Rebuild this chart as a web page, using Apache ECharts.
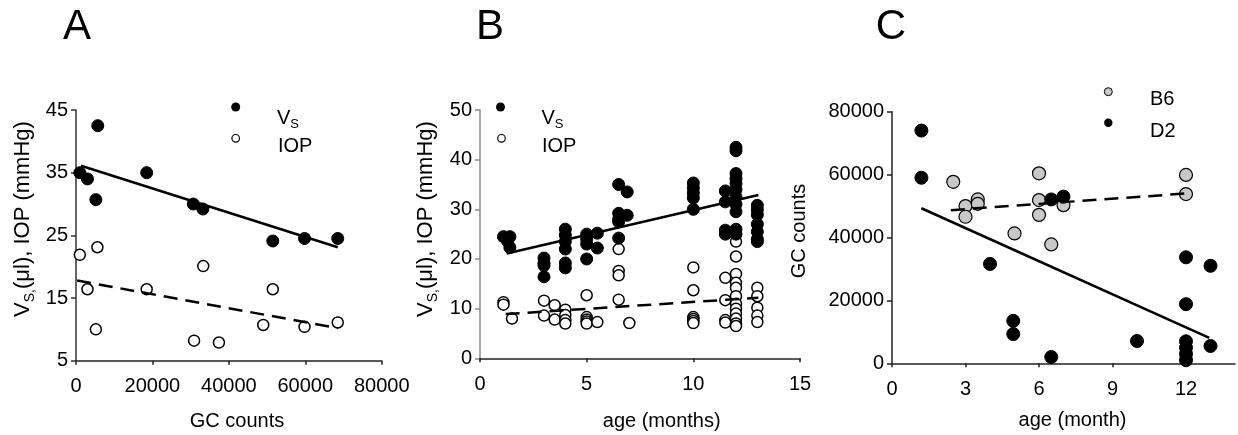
<!DOCTYPE html>
<html>
<head>
<meta charset="utf-8">
<script src="https://cdn.jsdelivr.net/npm/echarts@6/dist/echarts.min.js"></script>
<style>
html,body{margin:0;padding:0;background:#fff;}
#chart{width:1238px;height:435px;}
</style>
</head>
<body>
<div id="chart"></div>
<script>
// ---------- Panel A: Vs / IOP vs GC counts ----------
const aVsGC  = [1000, 3000, 5700, 5200, 18500, 30700, 33200, 51500, 59800, 68500];
const aVsVal = [35, 34, 42.5, 30.7, 35, 30, 29.2, 24.1, 24.5, 24.5];
const aIopGC  = [1000, 3000, 5600, 5200, 18500, 30900, 33300, 37400, 49000, 51500, 59800, 68500];
const aIopVal = [21.9, 16.4, 23.1, 10, 16.4, 8.2, 20.1, 7.9, 10.7, 16.4, 10.4, 11.1];
const aVsFitGC = [1300, 68500];
const aVsFitVal = [36.1, 23.1];
const aIopFitGC = [300, 68500];
const aIopFitVal = [17.8, 10.2];
const aYTicks = [5, 15, 25, 35, 45];

// ---------- Panel B: Vs / IOP vs age ----------
const bVsAge = [1.1, 1.4, 1.3, 1.4,
  3, 3, 3, 3,
  4, 4, 4, 4, 4, 4,
  5, 5, 5, 5, 5.5, 5.5,
  6.5, 6.5, 6.5, 6.5, 6.5, 6.9, 6.9,
  10, 10, 10, 10, 10,
  11.5, 11.5, 11.5, 11.5,
  12, 12, 12, 12, 12, 12, 12, 12, 12, 12, 12,
  13, 13, 13, 13, 13, 13, 13];
const bVsVal = [24.5, 24.5, 23.5, 22.3,
  20.2, 19.2, 18.7, 16.4,
  26, 24.8, 23.5, 22, 19.2, 18.2,
  25, 24, 23, 20, 25.2, 22.2,
  35, 29.2, 28, 27.5, 24.2, 33.5, 28.8,
  35.3, 34.3, 33.3, 32.3, 30,
  33.7, 31.5, 25.8, 25,
  42.5, 41.8, 37.2, 36.2, 35.2, 34, 32.5, 31, 29.5, 26, 25,
  30.8, 29.9, 28.9, 27, 25.5, 24, 23.5];
const bIopAge = [1.1, 1.1, 1.5,
  3, 3, 3.5, 3.5, 4, 4, 4, 4,
  5, 5, 5, 5, 5, 5.5,
  6.5, 6.5, 6.5, 6.5, 7,
  10, 10, 10, 10, 10, 10,
  11.5, 11.5, 11.5, 11.5,
  12, 12, 12, 12, 12, 12, 12, 12, 12, 12, 12, 12,
  13, 13, 13, 13, 13];
const bIopVal = [11.3, 10.8, 8,
  11.6, 8.6, 10.7, 7.8, 9.8, 8.7, 7.7, 7.0,
  12.7, 8.3, 7.8, 7.4, 7.0, 7.3,
  22, 17.6, 16.7, 11.8, 7.1,
  18.3, 13.7, 8.3, 7.9, 7.5, 7.1,
  16.2, 11.7, 7.7, 7.2,
  23.5, 20.5, 17, 15.2, 14.2, 12.5, 11, 10, 9, 8, 7, 6.5,
  14.2, 12.5, 10.2, 8.6, 7.3];
const bVsFitAge = [1.25, 13.05];
const bVsFitVal = [21.1, 32.9];
const bIopFitAge = [1.2, 13.05];
const bIopFitVal = [8.9, 12.2];

// ---------- Panel C: GC counts vs age ----------
const cB6Age = [2.5, 3, 3, 3.5, 3.5, 5, 6, 6, 6, 6.5, 7, 12, 12];
const cB6GC  = [57700, 50000, 46600, 52100, 50700, 41300, 60400, 51900, 47200, 37800, 50300, 59900, 53800];
const cD2Age = [1.2, 1.2, 4, 4.95, 4.95, 6.5, 6.5, 7, 10, 12, 12, 12, 12, 12, 12, 13, 13];
const cD2GC  = [74000, 59000, 31600, 13500, 9300, 2000, 52100, 53000, 7100, 33700, 18800, 7000, 5000, 3000, 1000, 31000, 5500];
const cB6FitAge = [2.4, 12];
const cB6FitGC  = [48700, 54000];
const cD2FitAge = [1.2, 12.95];
const cD2FitGC  = [49300, 8100];
const cXTicks = [0, 3, 6, 9, 12];

const FONT = "'Liberation Sans', Arial, Helvetica, sans-serif";
const zip = (xs, ys) => xs.map((x, i) => [x, ys[i]]);
const plain = v => String(v);

function xAxisCfg(gi, min, max, opts) {
  const o = {
    type: 'value', gridIndex: gi, min: min, max: max,
    splitLine: { show: false },
    axisLine: { show: true, onZero: false, lineStyle: { color: '#222', width: 1.5 } },
    axisTick: { show: true, length: 4, lineStyle: { color: '#222', width: 1.5 } },
    axisLabel: { color: '#000', fontFamily: FONT, fontSize: 20, margin: 16, hideOverlap: false,
      showMinLabel: true, showMaxLabel: true, formatter: plain }
  };
  if (opts.interval) o.interval = opts.interval;
  if (opts.custom) { o.axisLabel.customValues = opts.custom; o.axisTick.customValues = opts.custom; }
  return o;
}
function yAxisCfg(gi, min, max, opts) {
  const col = opts.color || '#222';
  const o = {
    type: 'value', gridIndex: gi, min: min, max: max,
    splitLine: { show: false },
    axisLine: { show: true, onZero: false, lineStyle: { color: col, width: 1.5 } },
    axisTick: { show: true, length: 5, lineStyle: { color: col, width: 1.5 } },
    axisLabel: { color: '#000', fontFamily: FONT, fontSize: 20, margin: 8, hideOverlap: false,
      showMinLabel: true, showMaxLabel: true, formatter: plain }
  };
  if (opts.interval) o.interval = opts.interval;
  if (opts.custom) { o.axisLabel.customValues = opts.custom; o.axisTick.customValues = opts.custom; }
  return o;
}

function filled(gi, data, size) {
  return { type: 'scatter', xAxisIndex: gi, yAxisIndex: gi, data: data, symbolSize: size, z: 3,
    itemStyle: { color: '#000', borderColor: '#000', borderWidth: 1, opacity: 1 }, silent: true };
}
function open(gi, data, size) {
  return { type: 'scatter', xAxisIndex: gi, yAxisIndex: gi, data: data, symbolSize: size, z: 2,
    itemStyle: { color: '#fff', borderColor: '#000', borderWidth: 1.5, opacity: 1 }, silent: true };
}
function fit(gi, data, dashed) {
  return { type: 'line', xAxisIndex: gi, yAxisIndex: gi, data: data, symbol: 'none', z: 4, silent: true,
    lineStyle: { color: '#000', width: 2.5, type: dashed ? [14, 8] : 'solid' } };
}

const chart = echarts.init(document.getElementById('chart'), null, { renderer: 'canvas' });

const txt = (x, y, text, size, extra) => ({
  type: 'text', x: x, y: y, silent: true,
  style: Object.assign({ text: text, fontFamily: FONT, fontSize: size, fill: '#000', align: 'left', verticalAlign: 'middle' }, (extra || {}))
});

const subRich = {
  s: { fontFamily: FONT, fontSize: 13, fill: '#000', verticalAlign: 'bottom', lineHeight: 13 },
  m: { fontFamily: FONT, fontSize: 20, lineHeight: 26 }
};
const subRichY = {
  s: { fontFamily: FONT, fontSize: 14, fill: '#000', verticalAlign: 'bottom', lineHeight: 14 },
  m: { fontFamily: FONT, fontSize: 22, lineHeight: 28 }
};

const yName = (x, y) => ({
  type: 'text', x: x, y: y, rotation: Math.PI / 2, silent: true,
  style: { text: '{m|V}{s|S,}{m|(μl), IOP (mmHg)}', rich: subRichY, fontFamily: FONT, fontSize: 22,
    fill: '#000', align: 'center', verticalAlign: 'middle' }
});

chart.setOption({
  animation: false,
  backgroundColor: '#fff',
  grid: [
    { left: 76, top: 110, width: 305.7, height: 250.7 },
    { left: 480, top: 110, width: 320, height: 248.3 },
    { left: 892, top: 111.7, width: 343, height: 251.6 }
  ],
  xAxis: [
    xAxisCfg(0, 0, 80000, { interval: 20000 }),
    xAxisCfg(1, 0, 15, { interval: 5 }),
    xAxisCfg(2, 0, 14, { custom: cXTicks })
  ],
  yAxis: [
    yAxisCfg(0, 5, 45, { custom: aYTicks, color: '#333' }),
    yAxisCfg(1, 0, 50, { interval: 10, color: '#8a8a8a' }),
    yAxisCfg(2, 0, 80000, { interval: 20000 })
  ],
  series: [
    open(0, zip(aIopGC, aIopVal), 11),
    filled(0, zip(aVsGC, aVsVal), 12),
    fit(0, zip(aVsFitGC, aVsFitVal), false),
    fit(0, zip(aIopFitGC, aIopFitVal), true),

    open(1, zip(bIopAge, bIopVal), 11),
    filled(1, zip(bVsAge, bVsVal), 12),
    fit(1, zip(bVsFitAge, bVsFitVal), false),
    fit(1, zip(bIopFitAge, bIopFitVal), true),

    { type: 'scatter', xAxisIndex: 2, yAxisIndex: 2, data: zip(cB6Age, cB6GC), symbolSize: 13, z: 2, silent: true,
      itemStyle: { color: '#c8c8c8', borderColor: '#000', borderWidth: 1.2, opacity: 1 } },
    filled(2, zip(cD2Age, cD2GC), 13),
    fit(2, zip(cB6FitAge, cB6FitGC), true),
    fit(2, zip(cD2FitAge, cD2FitGC), false)
  ],
  graphic: [
    txt(77, 27, 'A', 42, { align: 'center' }),
    txt(490, 27, 'B', 42, { align: 'center' }),
    txt(891, 27, 'C', 42, { align: 'center' }),
    { type: 'circle', shape: { cx: 235.7, cy: 107, r: 4.5 }, style: { fill: '#000' }, silent: true },
    { type: 'circle', shape: { cx: 235.7, cy: 138.3, r: 3.8 }, style: { fill: '#fff', stroke: '#000', lineWidth: 1.2 }, silent: true },
    { type: 'text', x: 277, y: 118, silent: true, style: { text: '{m|V}{s|S}', rich: subRich, fontFamily: FONT, fontSize: 20, fill: '#000', align: 'left', verticalAlign: 'middle' } },
    txt(278, 146, 'IOP', 20),
    { type: 'circle', shape: { cx: 500.5, cy: 107, r: 4.5 }, style: { fill: '#000' }, silent: true },
    { type: 'circle', shape: { cx: 501.5, cy: 138.3, r: 3.8 }, style: { fill: '#fff', stroke: '#000', lineWidth: 1.2 }, silent: true },
    { type: 'text', x: 541.5, y: 118, silent: true, style: { text: '{m|V}{s|S}', rich: subRich, fontFamily: FONT, fontSize: 20, fill: '#000', align: 'left', verticalAlign: 'middle' } },
    txt(542, 146, 'IOP', 20),
    { type: 'circle', shape: { cx: 1108.3, cy: 91.7, r: 4 }, style: { fill: '#c8c8c8', stroke: '#000', lineWidth: 1 }, silent: true },
    { type: 'circle', shape: { cx: 1108.3, cy: 122.7, r: 4.2 }, style: { fill: '#000' }, silent: true },
    txt(1150, 99, 'B6', 20),
    txt(1150, 131.7, 'D2', 20),
    txt(237, 421, 'GC counts', 20, { align: 'center' }),
    txt(661.7, 421, 'age (months)', 20, { align: 'center' }),
    txt(1072.5, 420, 'age (month)', 20, { align: 'center' }),
    yName(23, 219),
    yName(426, 219),
    { type: 'text', x: 799, y: 231, rotation: Math.PI / 2, silent: true,
      style: { text: 'GC counts', fontFamily: FONT, fontSize: 20, fill: '#000', align: 'center', verticalAlign: 'middle' } }
  ]
});
</script>
</body>
</html>
